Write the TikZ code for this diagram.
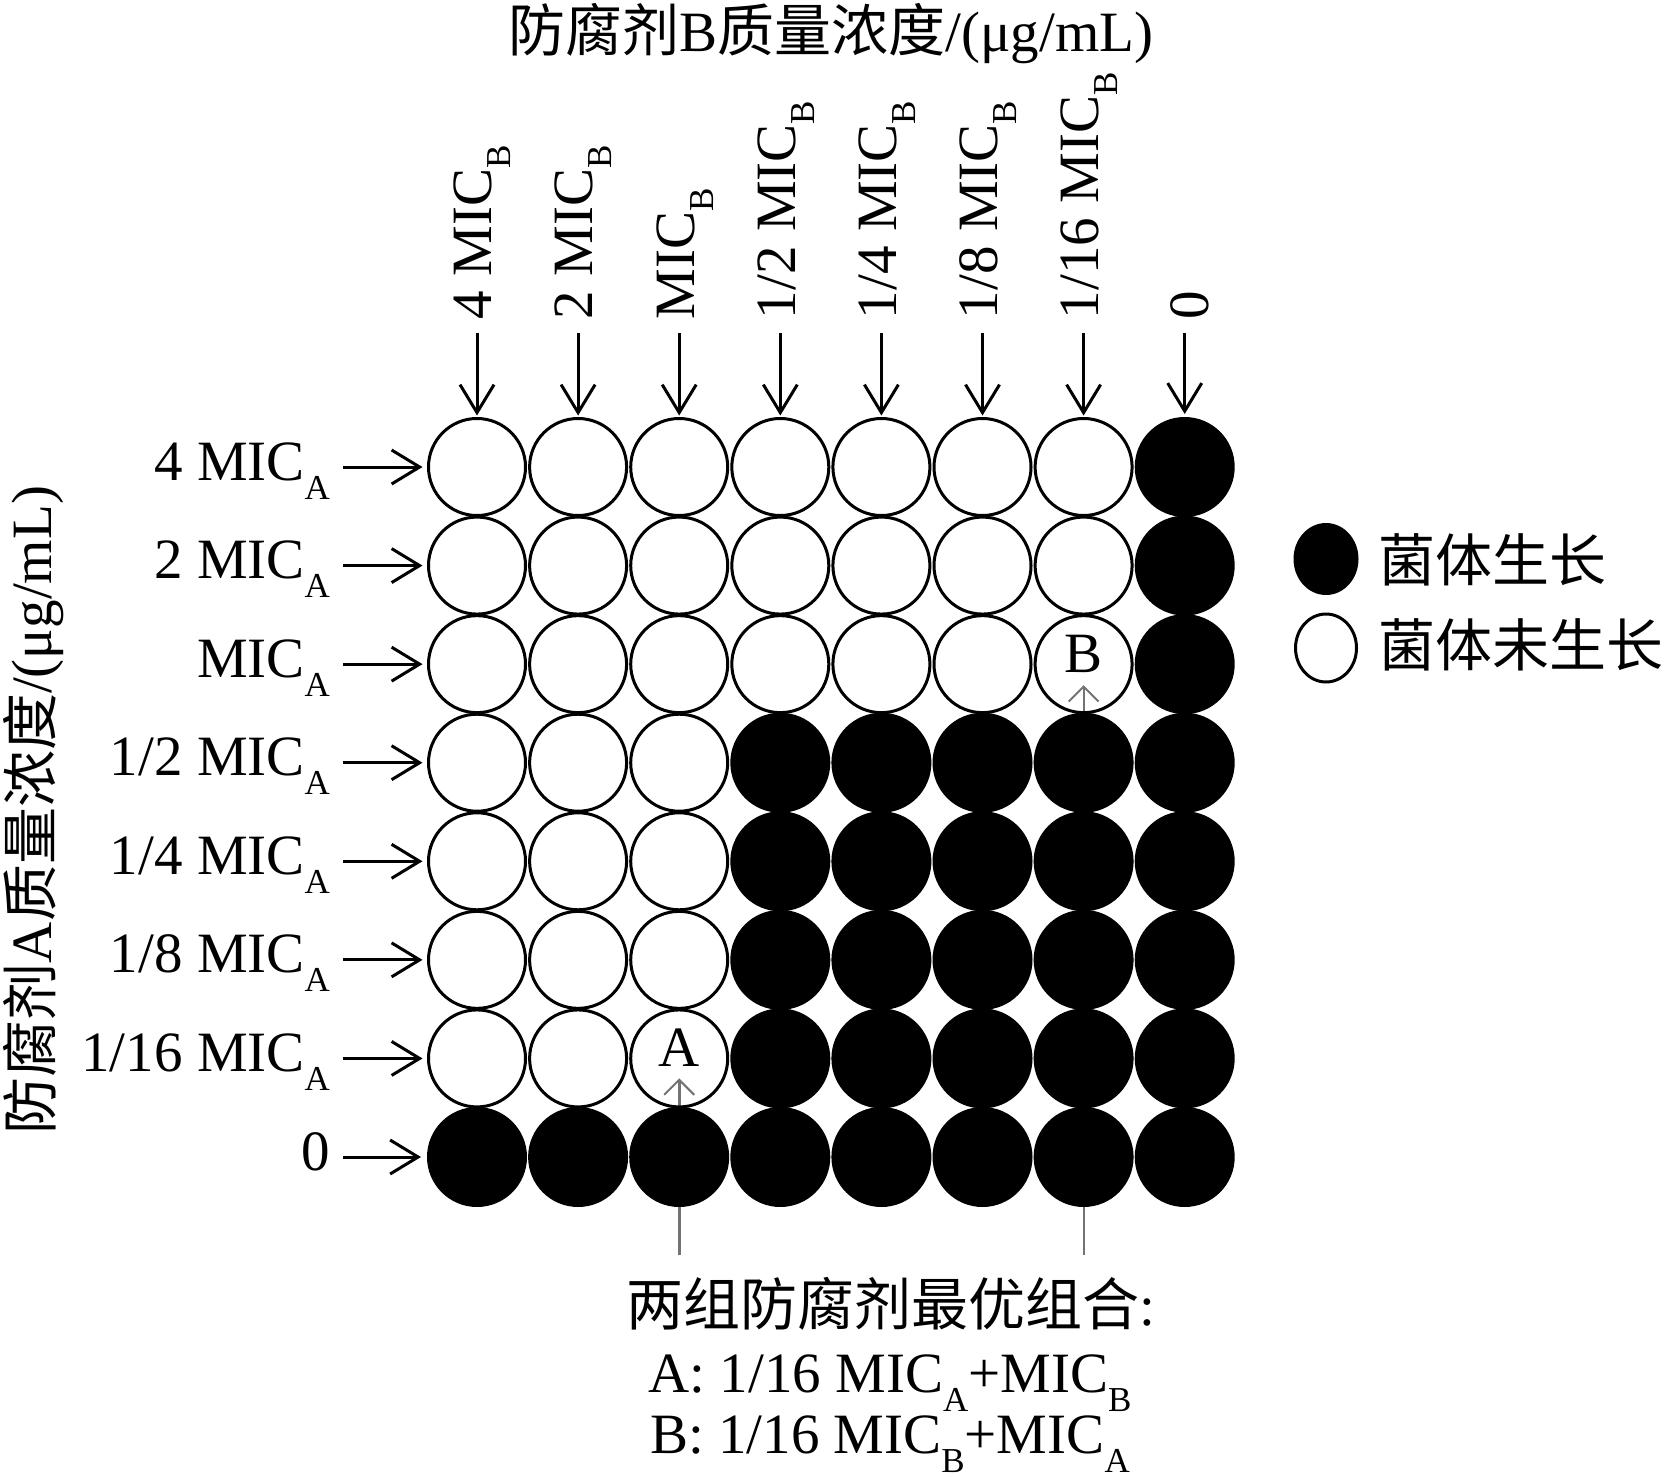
\documentclass[tikz,border=0pt]{standalone}
\usepackage{fontspec}
\setmainfont{Liberation Serif}
\newfontfamily\cjk{Noto Sans CJK SC}
\usetikzlibrary{arrows.meta,shapes.geometric,calc}
\pgfdeclarelayer{bg}
\pgfsetlayers{bg,main}
\newcommand\sbx[1]{\raisebox{-19pt}{\fontsize{35}{35}\selectfont #1}}
\newcommand\mic[1]{MIC\sbx{#1}}
\newcommand\sbs[1]{\raisebox{-19pt}[0pt][0pt]{\fontsize{35}{35}\selectfont #1}}
\newcommand\mics[1]{MIC\sbs{#1}}
\begin{document}
\begin{tikzpicture}[x=1pt,y=-1pt,
  every node/.style={inner sep=0pt, outer sep=0pt, font=\fontsize{57}{60}\selectfont},
  whitewell/.style={circle, draw=black, line width=3pt, minimum size=97pt},
  blackwell/.style={circle, fill=black, minimum size=100pt},
  gridarrow/.style={line width=3pt, -{Straight Barb[length=28pt,width=34pt]}},
  markarrow/.style={draw=black!55, -{Straight Barb[length=15pt,width=30pt,line width=2pt]}},
  rowlabel/.style={anchor=base east},
  collabel/.style={rotate=90, anchor=west},
]
\useasboundingbox (0,0) rectangle (1669,1477);

% titles
\node (title) [anchor=base] at (831,52) {{\cjk 防腐剂}B{\cjk 质量浓度}/(μg/mL)};
\node (ytitle) [rotate=90] at (34,810) {{\cjk 防腐剂}A{\cjk 质量浓度}/(μg/mL)};

% wells
\foreach \r in {1,...,8}{
  \foreach \c in {1,...,8}{
    \pgfmathtruncatemacro{\blk}{or(or(\c==8,\r==8),and(\r>=4,\c>=4))}
    \pgfmathsetmacro{\cx}{477+101.1*(\c-1)}
    \pgfmathsetmacro{\cy}{467+98.57*(\r-1)}
    \ifnum\blk=1
      \node[blackwell] (c-\r-\c) at (\cx,\cy) {};
    \else
      \node[whitewell] (c-\r-\c) at (\cx,\cy) {};
    \fi
  }
}

% row labels
\node[rowlabel] (rl1) at (330,480) {4 \mic{A}};
\node[rowlabel] (rl2) at (330,578.6) {2 \mic{A}};
\node[rowlabel] (rl3) at (330,677.1) {\mic{A}};
\node[rowlabel] (rl4) at (330,775.7) {1/2 \mic{A}};
\node[rowlabel] (rl5) at (330,874.3) {1/4 \mic{A}};
\node[rowlabel] (rl6) at (330,972.9) {1/8 \mic{A}};
\node[rowlabel] (rl7) at (330,1071.4) {1/16 \mic{A}};
\node[rowlabel] (rl8) at (330,1170) {0};

% column labels
\node[collabel] (cl1) at (482.5,319) {4 \mic{B}};
\node[collabel] (cl2) at (583.6,319) {2 \mic{B}};
\node[collabel] (cl3) at (684.7,319) {\mic{B}};
\node[collabel] (cl4) at (785.8,319) {1/2 \mic{B}};
\node[collabel] (cl5) at (886.9,319) {1/4 \mic{B}};
\node[collabel] (cl6) at (988,319) {1/8 \mic{B}};
\node[collabel] (cl7) at (1089.1,319) {1/16 \mic{B}};
\node[collabel] (cl8) at (1190.2,319) {0};

% arrows to rows and columns
\foreach \i in {1,...,8}{
  \draw[gridarrow, shorten <=14pt, shorten >=3pt] (cl\i.west -| c-1-\i.north) -- (c-1-\i.north);
  \draw[gridarrow, shorten <=13pt, shorten >=6pt] (rl\i.east |- c-\i-1.west) -- (c-\i-1.west);
}

% markers A and B
\node (markA) [anchor=base] at ($(c-7-3.center)+(0,8)$) {A};
\node (markB) [anchor=base] at ($(c-3-7.center)+(0,8)$) {B};
\coordinate (abot) at ($(c-8-3.south)+(0,48)$);
\coordinate (atip) at ($(c-7-3.center)+(0,20)$);
\coordinate (bbot) at ($(c-8-7.south)+(0,48)$);
\coordinate (btip) at ($(c-3-7.center)+(0,21)$);
\begin{pgfonlayer}{bg}
  \draw[markarrow, line width=3pt] (abot) -- (atip);
  \draw[markarrow, line width=2pt] (bbot) -- (btip);
\end{pgfonlayer}

% legend
\node[ellipse, fill=black, minimum width=65pt, minimum height=72pt] (lg1) at (1326,559) {};
\node[ellipse, draw=black, line width=3pt, minimum width=61pt, minimum height=68pt] (lg2) at (1326,648) {};
\node (lt1) [anchor=west] at (1378,560) {\cjk 菌体生长};
\node (lt2) [anchor=west] at (1378,645) {\cjk 菌体未生长};

% bottom text
\node (bt1) [anchor=base] at (891,1325) {{\cjk 两组防腐剂最优组合}:};
\node (bt2) [anchor=base] at (890,1392) {A: 1/16 \mics{A}+\mics{B}};
\node (bt3) [anchor=base] at (890,1453) {B: 1/16 \mics{B}+\mics{A}};
\end{tikzpicture}
\end{document}
